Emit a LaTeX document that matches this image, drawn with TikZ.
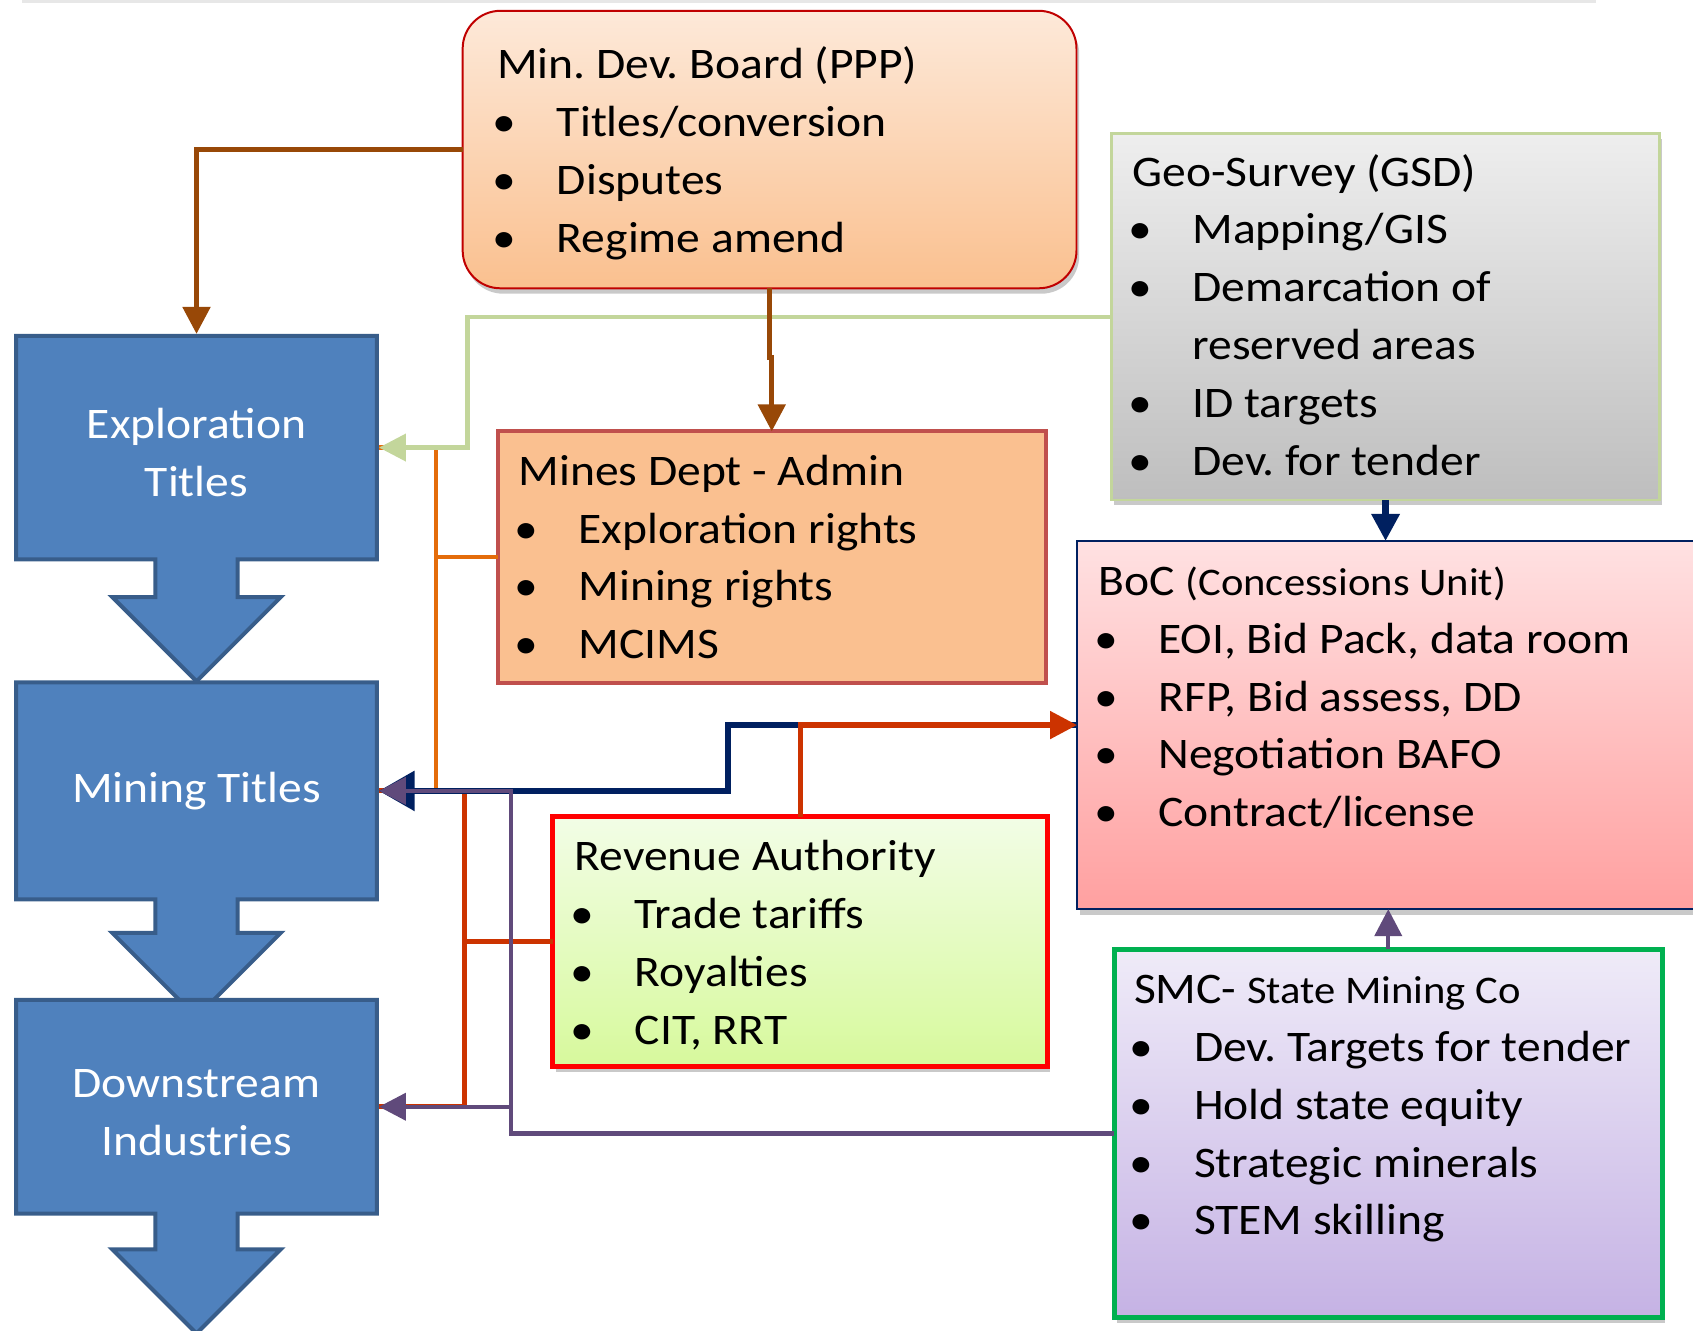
\documentclass[tikz,border=0pt]{standalone}
\usepackage{fontspec}
\setmainfont{Carlito}[FakeStretch=1.09]
\frenchspacing
\usetikzlibrary{arrows.meta,shadows}
\definecolor{cTopBar}{HTML}{E7E7E7}
\definecolor{cTitleF}{HTML}{4F81BD}
\definecolor{cTitleL}{HTML}{385D8A}
\definecolor{cMdbT}{HTML}{FDE9D9}
\definecolor{cMdbB}{HTML}{FAC08F}
\definecolor{cMdbL}{HTML}{C00000}
\definecolor{cGsdT}{HTML}{EEEEEE}
\definecolor{cGsdB}{HTML}{BEBEBE}
\definecolor{cGsdL}{HTML}{C3D69B}
\definecolor{cMdaF}{HTML}{FAC090}
\definecolor{cMdaL}{HTML}{C0504D}
\definecolor{cBocT}{HTML}{FFE1E2}
\definecolor{cBocB}{HTML}{FFA0A0}
\definecolor{cBocL}{HTML}{002060}
\definecolor{cRevT}{HTML}{F2FDE6}
\definecolor{cRevB}{HTML}{D7F99C}
\definecolor{cRevL}{HTML}{FF0000}
\definecolor{cSmcT}{HTML}{EFEBF8}
\definecolor{cSmcB}{HTML}{C5B2E4}
\definecolor{cSmcL}{HTML}{00B050}
\definecolor{cBrown}{HTML}{984807}
\definecolor{cGreen}{HTML}{C3D69B}
\definecolor{cOrange}{HTML}{E46C0A}
\definecolor{cRust}{HTML}{CC3300}
\definecolor{cNavy}{HTML}{002060}
\definecolor{cPurple}{HTML}{604A7B}
\tikzset{
  titleshape/.style={fill=cTitleF,draw=cTitleL,line width=2.1pt},
  titlelab/.style={inner sep=0pt,outer sep=0pt,minimum width=6.76cm,align=center,
      text=white,font=\fontsize{23}{30.5}\selectfont},
  orgbox/.style={anchor=north west,inner sep=0pt,outer sep=0pt},
  orgtxt/.style={anchor=north west,inner sep=0pt,align=left,
      font=\fontsize{23}{30.5}\selectfont},
  softshadow/.style={drop shadow={shadow xshift=0.05cm,shadow yshift=-0.10cm,
      opacity=0.3,fill=black!70}},
  tipM/.style={-{Triangle[length=5mm,width=5mm]}},
  tipL/.style={-{Triangle[length=6.6mm,width=7.2mm]}},
  brn/.style={draw=cBrown,line width=2.7pt},
  grn/.style={draw=cGreen,line width=2.2pt},
  orn/.style={draw=cOrange,line width=2.2pt},
  rst/.style={draw=cRust,line width=2.7pt},
  nvy/.style={draw=cNavy,line width=3.4pt},
  prp/.style={draw=cPurple,line width=2.2pt},
}
\newcommand{\itembul}[1]{\\\makebox[1.11cm][l]{\hspace{-0.08cm}\textbullet}#1}
\newcommand{\itemcont}[1]{\\\hspace*{1.11cm}#1}
\newcommand{\smalltitle}[1]{{\fontsize{20.6}{30.5}\selectfont #1}}
\newcommand{\titlestep}[5]{% name, top, bottom, head top, label
  \filldraw[titleshape] (0.30,#2) -- (6.98,#2) -- (6.98,#3) -- (4.40,#3) -- (4.40,#4)
    -- (5.20,#4) -- (3.64,#4-1.56) -- (2.08,#4) -- (2.88,#4) -- (2.88,#3)
    -- (0.30,#3) -- cycle;
  \pgfmathsetmacro\tsh{#2-(#3)+0.07}\pgfmathsetmacro\tsc{(#2+#3)/2}
  \node[titlelab,minimum height=\tsh cm] (#1) at (3.64,\tsc) {#5};}

\begin{document}
\begin{tikzpicture}[x=1cm,y=1cm]
  \useasboundingbox (0,0) rectangle (31.36,-24.64);
  \fill[cTopBar] (0.40,0) rectangle (29.56,-0.05);

  % flow of titles
  \titlestep{expl}{-6.22}{-10.36}{-11.06}{\strut Exploration\\Titles}
  \titlestep{mine}{-12.64}{-16.66}{-17.28}{\strut Mining Titles}
  \titlestep{down}{-18.52}{-22.48}{-23.14}{\strut Downstream\\Industries}

  % agencies
  \node[orgbox,softshadow,top color=cMdbT,bottom color=cMdbB,draw=cMdbL,line width=1.05pt,
    rounded corners=0.7cm,minimum width=11.37cm,minimum height=5.14cm] (mdb) at (8.57,-0.20) {};
  \node[orgtxt] (mdbtxt) at (9.20,-0.70)
    {\strut Min. Dev. Board (PPP)\itembul{Titles/conversion}\itembul{Disputes}\itembul{Regime amend}};

  \node[orgbox,softshadow,top color=cGsdT,bottom color=cGsdB,draw=cGsdL,line width=1.4pt,
    minimum width=10.15cm,minimum height=6.79cm] (gsd) at (20.59,-2.47) {};
  \node[orgtxt] (gsdtxt) at (20.97,-2.69)
    {\strut Geo-Survey (GSD)\itembul{Mapping/GIS}\itembul{Demarcation of}\itemcont{reserved areas}%
     \itembul{ID targets}\itembul{Dev. for tender}};

  \node[orgbox,fill=cMdaF,draw=cMdaL,line width=2.1pt,
    minimum width=10.15cm,minimum height=4.66cm] (mda) at (9.22,-7.99) {};
  \node[orgtxt] (mdatxt) at (9.60,-8.23)
    {\strut Mines Dept - Admin\itembul{Exploration rights}\itembul{Mining rights}\itembul{MCIMS}};

  \node[orgbox,softshadow,top color=cBocT,bottom color=cBocB,draw=cBocL,line width=1.1pt,
    minimum width=11.75cm,minimum height=6.82cm] (boc) at (19.95,-10.02) {};
  \node[orgtxt] (boctxt) at (20.34,-10.27)
    {\strut BoC \smalltitle{(Concessions Unit)}\itembul{EOI, Bid Pack, data room}%
     \itembul{RFP, Bid assess, DD}\itembul{Negotiation BAFO}\itembul{Contract/license}};

  \node[orgbox,softshadow,top color=cRevT,bottom color=cRevB,draw=cRevL,line width=2.6pt,
    minimum width=9.16cm,minimum height=4.63cm] (rev) at (10.24,-15.13) {};
  \node[orgtxt] (revtxt) at (10.64,-15.37)
    {\strut Revenue Authority\itembul{Trade tariffs}\itembul{Royalties}\itembul{CIT, RRT}};

  \node[orgbox,softshadow,top color=cSmcT,bottom color=cSmcB,draw=cSmcL,line width=2.6pt,
    minimum width=10.15cm,minimum height=6.83cm] (smc) at (20.64,-17.58) {};
  \node[orgtxt] (smctxt) at (21.00,-17.83)
    {\strut SMC- \smalltitle{State Mining Co}\itembul{Dev. Targets for tender}%
     \itembul{Hold state equity}\itembul{Strategic minerals}\itembul{STEM skilling}};

  % connectors
  \coordinate (obus) at (8.08,0);
  \coordinate (rbus) at (8.61,0);
  \coordinate (gbus) at (8.66,0);
  \coordinate (pbus) at (9.46,0);
  \coordinate (nbus) at (13.48,0);
  \draw[orn] (mda.west) -- (mda.west -| obus) |- (expl.east);
  \draw[orn] (mda.west -| obus) |- (mine.east);
  \draw[rst] (rev.west) -- (rev.west -| rbus) |- (mine.east);
  \draw[rst] (rev.west -| rbus) |- (down.east);
  \draw[grn,tipM] (gsd.west) -- (gsd.west -| gbus) |- (expl.east);
  \draw[brn,tipM] (mdb.west) -| (expl.north);
  \draw[brn,tipM] (mdb.south) -- ++(0,-1.28) -| (mda.north);
  \draw[nvy,tipL] (boc.west) -- (boc.west -| nbus) |- (mine.east);
  \draw[nvy,tipM] (gsd.south) -- (gsd.south |- boc.north);
  \draw[prp,tipM] (smc.west) -- (smc.west -| pbus) |- (mine.east);
  \draw[prp,tipM] (smc.west -| pbus) |- (down.east);
  \draw[prp,tipM] (smc.north) -- (smc.north |- boc.south);
  \draw[rst,tipM] (rev.north) |- (boc.west);
\end{tikzpicture}
\end{document}
